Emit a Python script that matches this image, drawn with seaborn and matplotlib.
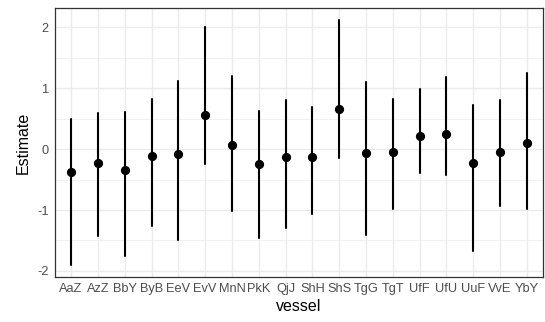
import numpy as np
import pandas as pd
import matplotlib
matplotlib.use("Agg")
import matplotlib.pyplot as plt
from matplotlib.ticker import MultipleLocator
import seaborn as sns

vessels = ["AaZ", "AzZ", "BbY", "ByB", "EeV", "EvV", "MnN", "PkK", "QjJ",
           "ShH", "ShS", "TgG", "TgT", "UfF", "UfU", "UuF", "VvE", "YbY"]
estimate = [-0.37, -0.22, -0.34, -0.11, -0.08, 0.57, 0.07, -0.24, -0.13,
            -0.13, 0.66, -0.07, -0.05, 0.21, 0.25, -0.23, -0.05, 0.11]
lower = [-1.90, -1.43, -1.76, -1.27, -1.50, -0.25, -1.01, -1.46, -1.29,
         -1.07, -0.15, -1.41, -0.99, -0.39, -0.42, -1.68, -0.93, -0.99]
upper = [0.50, 0.59, 0.61, 0.83, 1.12, 2.00, 1.20, 0.63, 0.81,
         0.69, 2.12, 1.11, 0.82, 0.99, 1.19, 0.73, 0.81, 1.26]

# long form: each vessel carries its lower bound, estimate and upper bound;
# the median is the estimate and the full percentile interval spans the range
df = pd.DataFrame({
    "vessel": np.repeat(vessels, 3),
    "value": np.ravel(np.column_stack([lower, estimate, upper])),
})

sns.set_theme(style="white")
plt.rcParams["font.family"] = ["Liberation Sans", "DejaVu Sans"]

fig = plt.figure(figsize=(5.45, 3.22), dpi=100)
ax = fig.add_axes([55 / 545, 1 - 277 / 322, (543 - 55) / 545, (277 - 8) / 322])

sns.pointplot(data=df, x="vessel", y="value", order=vessels,
              estimator=np.median, errorbar=("pi", 100),
              color="black", linestyle="none", marker="o",
              markersize=4.6, err_kws={"linewidth": 1.5}, ax=ax)

ax.set_xlim(-0.6, len(vessels) - 0.4)
ax.set_ylim(-2.10, 2.32)
ax.yaxis.set_major_locator(MultipleLocator(1))
ax.yaxis.set_minor_locator(MultipleLocator(0.5))

ax.set_axisbelow(True)
ax.grid(True, which="major", color="#EBEBEB", linewidth=1.0)
ax.grid(True, which="minor", axis="y", color="#EBEBEB", linewidth=0.5)

for s in ax.spines.values():
    s.set_visible(True)
    s.set_color("#333333")
    s.set_linewidth(0.9)

ax.tick_params(axis="both", which="major", length=3, width=0.8,
               color="#333333", labelcolor="#4D4D4D", labelsize=9.2, pad=1.5)
ax.tick_params(axis="both", which="minor", length=0)
ax.set_yticks([-2, -1, 0, 1, 2])
ax.set_yticklabels(["-2", "-1", "0", "1", "2"])

ax.set_xlabel("vessel", fontsize=11.5, color="black", labelpad=3)
ax.set_ylabel("Estimate", fontsize=11.5, color="black", labelpad=5)

fig.savefig("out.png", dpi=100, facecolor="white")
